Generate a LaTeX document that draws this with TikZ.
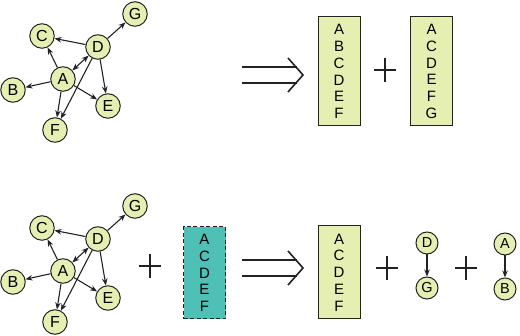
\documentclass[tikz,border=0pt]{standalone}
\usepackage{fontspec}
\setmainfont{Liberation Sans}
\usetikzlibrary{arrows.meta}
\definecolor{lightfill}{HTML}{E6EFB2}
\definecolor{tealfill}{HTML}{4EC0B6}
\definecolor{edgec}{HTML}{222222}
\tikzset{
  vert/.style={circle,draw=edgec,line width=1pt,fill=lightfill,minimum size=24.5pt,inner sep=0pt,font=\fontsize{16}{16}\selectfont},
  smallvert/.style={circle,draw=edgec,line width=1pt,fill=lightfill,minimum size=22pt,inner sep=0pt,font=\fontsize{14.5}{14.5}\selectfont},
  edge/.style={draw=edgec,line width=1.1pt,-{Stealth[length=7pt,width=5.5pt]}},
  bedge/.style={draw=edgec,line width=1.1pt,{Stealth[length=7pt,width=5.5pt]}-{Stealth[length=7pt,width=5.5pt]}},
  listbox/.style={rectangle,draw=edgec,line width=1pt,fill=lightfill,minimum width=42pt,minimum height=109pt,inner sep=0pt,align=center,font=\fontsize{15}{16.7}\selectfont},
  pluss/.style={draw=edgec,line width=1.6pt},
  impl/.style={draw=edgec,line width=1.6pt},
}
\newcommand{\mygraph}[1]{%
  \begin{scope}[yshift=-#1pt]
  \node[vert] (G#1) at (135,14) {G};
  \node[vert] (C#1) at (42,36) {C};
  \node[vert] (D#1) at (98,47) {D};
  \node[vert] (A#1) at (63,79) {A};
  \node[vert] (B#1) at (13,90) {B};
  \node[vert] (E#1) at (108,106) {E};
  \node[vert] (F#1) at (55,130) {F};
  \draw[edge] (D#1) -- (C#1);
  \draw[edge] (A#1) -- (C#1);
  \draw[bedge] (A#1) -- (D#1);
  \draw[edge] (D#1) -- (G#1);
  \draw[edge] (D#1) -- (E#1);
  \draw[edge] (D#1) -- (F#1);
  \draw[edge] (A#1) -- (B#1);
  \draw[edge] (A#1) -- (E#1);
  \draw[edge] (A#1) -- (F#1);
  \end{scope}}
\newcommand{\myplus}[2]{%
  \draw[pluss] (#1-11,#2) -- (#1+11,#2);
  \draw[pluss] (#1,#2-12) -- (#1,#2+12);}
\newcommand{\myimpl}[1]{%
  \draw[impl] (242,#1-8) -- (297,#1-8);
  \draw[impl] (242,#1+8) -- (297,#1+8);
  \draw[impl,line join=miter] (288,#1-17) -- (303,#1) -- (288,#1+17);}
\begin{document}
\begin{tikzpicture}[x=1pt,y=-1pt]
\useasboundingbox (0,0) rectangle (520,336);
% top row
\mygraph{0}
\myimpl{75}
\node[listbox] (L1) at (339,71.5) {A\\B\\C\\D\\E\\F};
\myplus{385}{70}
\node[listbox] (L2) at (431.5,71.5) {A\\C\\D\\E\\F\\G};
% bottom row
\mygraph{192}
\myplus{150}{266}
\node[listbox,fill=tealfill,dash pattern=on 4pt off 2.5pt,minimum height=92pt] (T1) at (204.5,273) {A\\C\\D\\E\\F};
\myimpl{268}
\node[listbox,minimum height=93pt] (L3) at (339,272.5) {A\\C\\D\\E\\F};
\myplus{387}{268}
\node[smallvert] (sD) at (427,243) {D};
\node[smallvert] (sG) at (427,288) {G};
\draw[edge] (sD) -- (sG);
\myplus{466}{268}
\node[smallvert] (sA) at (505,244) {A};
\node[smallvert] (sB) at (505,289) {B};
\draw[edge] (sA) -- (sB);
\end{tikzpicture}
\end{document}
